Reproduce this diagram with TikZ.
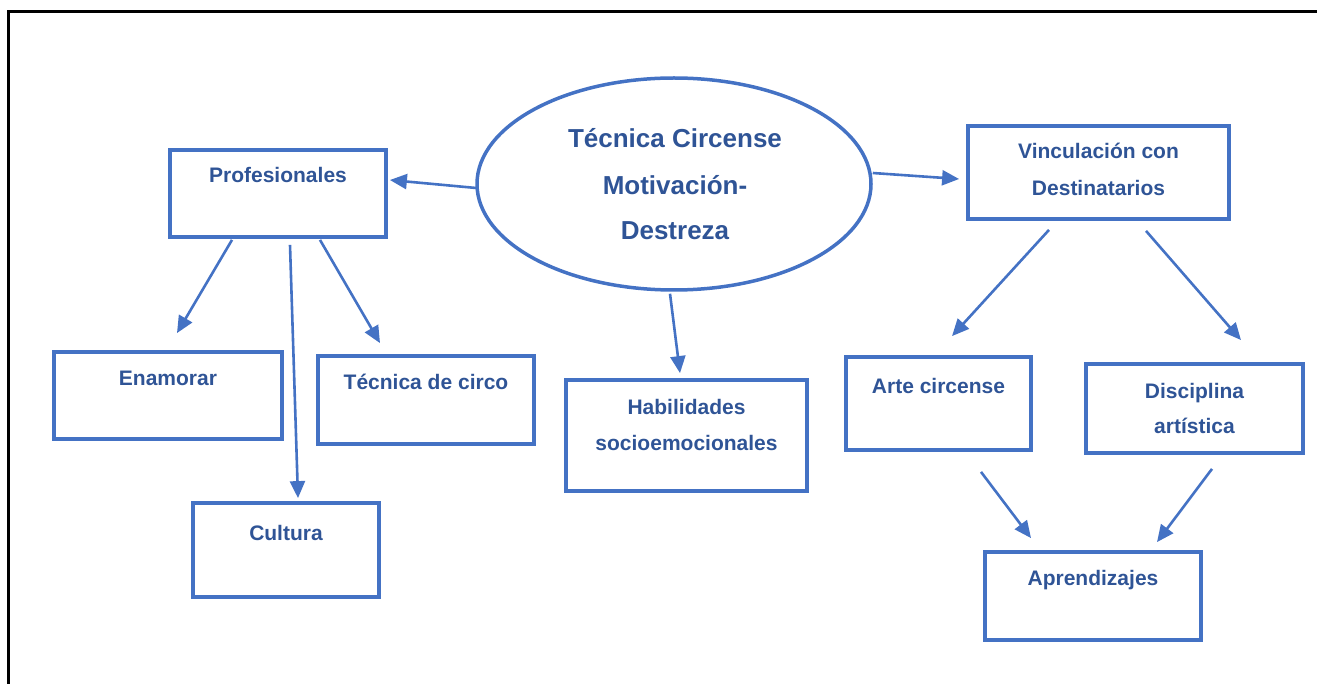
\documentclass[tikz,border=0pt]{standalone}
\usepackage{fontspec}
\setmainfont{Liberation Sans}
\usetikzlibrary{shapes.geometric,arrows.meta,calc}
\definecolor{boxblue}{HTML}{4472C4}
\definecolor{txtblue}{HTML}{2F5496}
\tikzset{
  box/.style={draw=boxblue, line width=3.8pt, rectangle, inner sep=0pt},
  txt/.style={text=txtblue, font=\bfseries\fontsize{21}{21}\selectfont, inner sep=0pt, text height=15pt, text depth=0pt},
  bigtxt/.style={text=txtblue, font=\bfseries\fontsize{26}{26}\selectfont, inner sep=0pt, text height=19pt, text depth=0pt},
  arr/.style={draw=boxblue, line width=2.6pt, -{Triangle[length=17pt,width=15pt]}},
  frame/.style={draw=black, line width=3pt}
}
\begin{document}
\begin{tikzpicture}[x=1pt,y=-1pt]
\useasboundingbox (0,0) rectangle (1317,684);
% frame
\draw[frame] (8,684) -- (8,12) -- (1317,12);
% central ellipse
\node[draw=boxblue, line width=3.5pt, ellipse, minimum width=394pt, minimum height=212pt, inner sep=0pt] (ell) at (674,184) {};
\node[bigtxt] at (675,138) {Técnica Circense};
\node[bigtxt] at (675,185) {Motivación-};
\node[bigtxt] at (675,230) {Destreza};
% boxes
\node[box, minimum width=216pt, minimum height=87pt] (prof) at (278,193.5) {};
\node[txt] at (278,175) {Profesionales};
\node[box, minimum width=228pt, minimum height=87pt] (enam) at (168,395.5) {};
\node[txt] at (168,378) {Enamorar};
\node[box, minimum width=216pt, minimum height=88pt] (tec) at (426,400) {};
\node[txt] at (426,382) {Técnica de circo};
\node[box, minimum width=186pt, minimum height=94pt] (cult) at (286,550) {};
\node[txt] at (286,533) {Cultura};
\node[box, minimum width=241pt, minimum height=111pt] (hab) at (686.5,435.5) {};
\node[txt] at (686.5,407) {Habilidades};
\node[txt] at (686.5,443) {socioemocionales};
\node[box, minimum width=261pt, minimum height=93pt] (vinc) at (1098.5,172.5) {};
\node[txt] at (1098.5,151) {Vinculación con};
\node[txt] at (1098.5,188) {Destinatarios};
\node[box, minimum width=185pt, minimum height=93pt] (arte) at (938.5,403.5) {};
\node[txt] at (938.5,386) {Arte circense};
\node[box, minimum width=217pt, minimum height=89pt] (disc) at (1194.5,408.5) {};
\node[txt] at (1194.5,391) {Disciplina};
\node[txt] at (1194.5,426) {artística};
\node[box, minimum width=216pt, minimum height=88pt] (apr) at (1093,596) {};
\node[txt] at (1093,578) {Aprendizajes};
% connectors
\draw[arr] ($(ell.west)+(1,4)$) -- ($(prof.east)+(2,-13.5)$);
\draw[arr] ($(ell.east)+(0,-11)$) -- ($(vinc.west)+(-7,6.5)$);
\draw[arr] ($(ell.south)+(-4,2)$) -- ($(hab.north)+(-6.5,-5)$);
\draw[arr] ($(prof.south)+(-46,1)$) -- ($(enam.north)+(9,-17)$);
\draw[arr] ($(prof.south)+(12,6)$) -- ($(cult.north)+(12,-3)$);
\draw[arr] ($(prof.south)+(42,1)$) -- ($(tec.north)+(-46,-11)$);
\draw[arr] ($(vinc.south)+(-49.5,9)$) -- ($(arte.north)+(13.5,-19)$);
\draw[arr] ($(vinc.south)+(47.5,10)$) -- ($(disc.north)+(46.5,-22)$);
\draw[arr] ($(arte.south)+(42.5,20)$) -- ($(apr.north)+(-62,-12)$);
\draw[arr] ($(disc.south)+(17.5,14)$) -- ($(apr.north)+(64,-8)$);
\end{tikzpicture}
\end{document}
